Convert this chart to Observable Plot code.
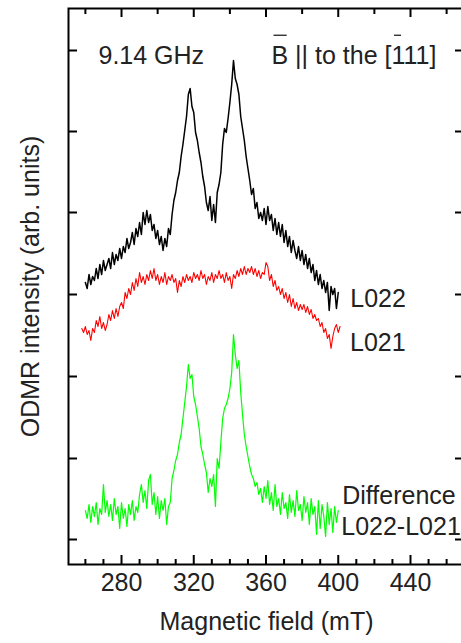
<!DOCTYPE html>
<html><head><meta charset="utf-8">
<script src="https://cdn.jsdelivr.net/npm/d3@7"></script>
<script src="https://cdn.jsdelivr.net/npm/@observablehq/plot@0.6"></script>
<style>
html,body{margin:0;padding:0;background:#fff;overflow:hidden;width:461px;height:643px;}
#chart{width:461px;height:643px;overflow:hidden;}
#chart svg{max-width:none !important;width:470px;height:643px;}
</style></head><body><div id="chart"></div>
<script>
// Magnetic field sampling: 1 mT steps starting at these fields (mT)
const l022Start = 260;
const l021Start = 258;
const diffStart = 260;

// ODMR intensity (arb. units)
const l022 = [
282,276,290,280,288,284,296,286,300,290,
304,294,300,306,296,312,300,310,304,316,
306,318,312,326,316,322,332,320,336,328,
342,330,352,340,354,342,350,334,340,326,
334,320,328,314,326,318,336,330,350,364,
372,384,392,408,420,434,448,470,476,458,
452,432,424,412,402,388,378,362,354,368,
344,360,342,372,380,392,420,436,432,446,
462,480,504,486,480,470,448,436,424,408,
396,384,370,376,356,362,346,352,344,356,
340,358,344,350,334,346,330,342,328,340,
322,334,318,328,312,324,314,306,318,304,
314,300,310,296,306,292,300,284,294,280,
290,276,284,272,282,254,278,270,276,256,
272];

const l021 = [
236,232,238,230,234,224,236,232,244,238,
248,236,242,234,240,250,244,254,246,256,
248,258,262,256,272,266,276,270,282,274,
286,278,292,282,288,280,290,284,294,286,
296,284,290,280,288,282,292,280,288,284,
290,282,286,272,284,278,288,282,290,284,
288,282,292,286,290,284,294,286,290,280,
288,284,292,282,290,286,294,286,290,282,
292,284,288,276,290,286,294,288,296,290,
298,290,296,292,298,290,296,288,294,286,
292,290,302,298,284,290,278,284,274,278,
270,276,266,272,262,270,258,266,256,262,
254,260,255,260,252,258,250,255,246,250,
244,246,238,242,232,236,226,230,216,228,
236,240,232,238];

const diff = [
54,46,60,42,58,48,62,40,56,50,
80,52,64,48,60,44,66,50,58,36,
62,46,56,38,60,50,64,44,58,52,
70,80,62,74,56,84,90,60,72,50,
68,46,64,54,66,40,58,62,86,94,
104,110,122,130,146,162,178,200,186,190,
168,160,148,136,118,110,100,92,72,86,
78,90,58,106,96,122,146,156,160,166,
176,192,230,210,196,204,172,150,130,118,
108,98,90,86,78,82,70,76,62,78,
66,84,60,72,54,80,58,66,50,72,
56,62,46,70,52,64,48,74,54,60,
44,68,52,62,40,66,50,58,30,64,
36,60,48,28,62,40,56,32,58,42,
54];

// Axis ticks
const xLabelTicks = [280, 320, 360, 400, 440];
const xBottomMinor = [260,270,290,300,310,330,340,350,370,380,390,410,420,430,450,460];
const xTopMinor = [260,300,340,380,420,460];
const yTicks = [25, 106, 188, 270, 352, 433, 514];

const seriesLabels = ["L022", "L021", "Difference", "L022-L021"];
const freqLabel = "9.14 GHz";
const fieldLabel = "B || to the [111]";
const xTitle = "Magnetic field (mT)";
const yTitle = "ODMR intensity (arb. units)";

const rows = (start, vals) => vals.map((v, i) => ({field: start + i, intensity: v}));
const dL022 = rows(l022Start, l022);
const dL021 = rows(l021Start, l021);
const dDiff = rows(diffStart, diff);

const W = 470, H = 643, mL = 68, mR = 6, mT = 8, mB = 79;
const fw = W - mL - mR, fh = H - mT - mB;
const ink = "#222";

const plot = Plot.plot({
  width: W, height: H,
  marginLeft: mL, marginRight: mR, marginTop: mT, marginBottom: mB,
  style: {fontFamily: "'Liberation Sans', Arial, sans-serif", fontSize: "25px", color: ink, background: "#fff", maxWidth: "none"},
  x: {domain: [250.65, 469.9]},
  y: {domain: [0, 556], axis: null},
  marks: [
    Plot.line(dL022, {x: "field", y: "intensity", stroke: "#000", strokeWidth: 1.5}),
    Plot.line(dL021, {x: "field", y: "intensity", stroke: "#ff0000", strokeWidth: 1.1}),
    Plot.line(dDiff, {x: "field", y: "intensity", stroke: "#00ff00", strokeWidth: 1.2}),
    // ticks (inward)
    Plot.tickX(xLabelTicks, {x: d => d, stroke: "#000", strokeWidth: 2, insetTop: fh - 9}),
    Plot.tickX(xBottomMinor, {x: d => d, stroke: "#000", strokeWidth: 2, insetTop: fh - 5}),
    Plot.tickX(xLabelTicks, {x: d => d, stroke: "#000", strokeWidth: 2, insetBottom: fh - 9}),
    Plot.tickX(xTopMinor, {x: d => d, stroke: "#000", strokeWidth: 2, insetBottom: fh - 6}),
    Plot.tickY(yTicks, {y: d => d, stroke: "#000", strokeWidth: 2, insetRight: fw - 9}),
    Plot.tickY(yTicks, {y: d => d, stroke: "#000", strokeWidth: 2, insetLeft: fw - 9}),
    Plot.frame({stroke: "#000", strokeWidth: 2}),
    Plot.axisX({ticks: xLabelTicks, tickSize: 0, tickPadding: 9, fontSize: 25, label: null, fill: ink}),
    // series labels at the end of each series
    Plot.text([dL022[dL022.length - 1]], {x: "field", y: "intensity", text: () => seriesLabels[0], textAnchor: "start", dx: 12, dy: 6, fontSize: 25, fill: ink}),
    Plot.text([dL021[dL021.length - 1]], {x: "field", y: "intensity", text: () => seriesLabels[1], textAnchor: "start", dx: 10, dy: 16, fontSize: 25, fill: ink}),
    Plot.text([dDiff[dDiff.length - 1]], {x: "field", y: "intensity", text: () => seriesLabels[2], textAnchor: "start", dx: 4, dy: -15, fontSize: 25, fill: ink}),
    Plot.text([dDiff[dDiff.length - 1]], {x: "field", y: "intensity", text: () => seriesLabels[3], textAnchor: "start", dx: 3, dy: 16, fontSize: 25, fill: ink}),
    // annotations
    Plot.text([freqLabel], {frameAnchor: "top-left", text: d => d, textAnchor: "start", dx: 30, dy: 38, fontSize: 25, fill: ink}),
    Plot.text([fieldLabel], {frameAnchor: "top-left", text: d => d, textAnchor: "start", dx: 203, dy: 38, fontSize: 25, fill: ink}),
    Plot.text([xTitle], {frameAnchor: "bottom", text: d => d, textAnchor: "middle", dy: 65, fontSize: 25, fill: ink}),
    Plot.text([yTitle], {frameAnchor: "left", text: d => d, textAnchor: "middle", rotate: -90, dx: -38, fontSize: 25, fill: ink})
  ]
});
plot.style.maxWidth = "none";
document.getElementById("chart").append(plot);

// overbars on B and the first 1 of [111], placed from the rendered text box
try {
  const svg = plot.tagName.toLowerCase() === "svg" ? plot : plot.querySelector("svg");
  const t = Array.from(svg.querySelectorAll("text")).find(e => e.textContent === fieldLabel);
  const r = t.getBoundingClientRect(), sr = svg.getBoundingClientRect();
  const total = t.getComputedTextLength();
  const x0 = (r.right - sr.left) - total; // advance origin of the first character
  const yb = r.top - sr.top - 6;
  const bars = [[0, 2, 1.5], [fieldLabel.indexOf("[") + 1, 2.5, 2.5]];
  for (const [i, inL, inR] of bars) {
    const a = x0 + t.getSubStringLength(0, i) + inL;
    const b = x0 + t.getSubStringLength(0, i + 1) - inR;
    const ln = document.createElementNS("http://www.w3.org/2000/svg", "line");
    ln.setAttribute("x1", a); ln.setAttribute("x2", b);
    ln.setAttribute("y1", yb); ln.setAttribute("y2", yb);
    ln.setAttribute("stroke", ink); ln.setAttribute("stroke-width", "1.3");
    svg.appendChild(ln);
  }
} catch (err) { console.error(err); }
</script></body></html>
